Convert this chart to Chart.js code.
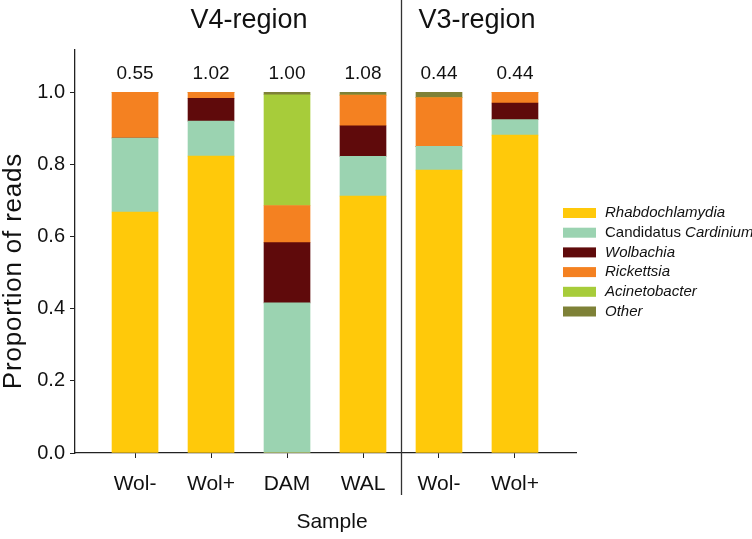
<!DOCTYPE html>
<html>
<head>
<meta charset="utf-8">
<script src="https://cdn.jsdelivr.net/npm/chart.js@4.4.1/dist/chart.umd.min.js"></script>
<style>
  html, body { margin: 0; padding: 0; background: #fff; }
  #wrap { width: 752px; height: 539px; position: relative; }
</style>
</head>
<body>
<div id="wrap"><canvas id="c" width="752" height="539"></canvas></div>
<script>
// ---- data ----
const categories = ['Wol-', 'Wol+', 'DAM', 'WAL', 'Wol-', 'Wol+'];
const totals = ['0.55', '1.02', '1.00', '1.08', '0.44', '0.44'];
const regionNames = ['V4-region', 'V3-region'];
const regionFirst = [0, 4];
const regionLast = [3, 5];
const seriesNames = ['Rhabdochlamydia', 'Candidatus Cardinium', 'Wolbachia', 'Rickettsia', 'Acinetobacter', 'Other'];
const rhabdochlamydia = [0.668, 0.823, 0.000, 0.712, 0.784, 0.881];
const cardinium       = [0.205, 0.097, 0.416, 0.110, 0.066, 0.043];
const wolbachia       = [0.000, 0.063, 0.167, 0.085, 0.000, 0.046];
const rickettsia      = [0.127, 0.017, 0.103, 0.085, 0.135, 0.030];
const acinetobacter   = [0.000, 0.000, 0.307, 0.000, 0.000, 0.000];
const other           = [0.000, 0.000, 0.007, 0.008, 0.015, 0.000];
const yTicks = [0, 0.2, 0.4, 0.6, 0.8, 1.0];

const seriesValues = [rhabdochlamydia, cardinium, wolbachia, rickettsia, acinetobacter, other];
const seriesColors = ['#FFC90A', '#9BD3B1', '#5F0A0B', '#F48121', '#A7CC3A', '#7E8137'];

const FONT = '"Liberation Sans", Arial, Helvetica, sans-serif';

const datasets = seriesValues.map((vals, s) => ({
  label: seriesNames[s],
  data: vals.map((v, i) => ({ x: i, y: v })),
  backgroundColor: seriesColors[s],
  borderWidth: 0,
  barThickness: 46
}));

const decor = {
  id: 'decor',
  afterDraw(chart) {
    const ctx = chart.ctx;
    const xs = chart.scales.x;
    ctx.save();
    ctx.fillStyle = '#111';
    ctx.textAlign = 'center';
    ctx.textBaseline = 'middle';
    // totals above bars
    ctx.font = '19px ' + FONT;
    totals.forEach((t, i) => ctx.fillText(t, xs.getPixelForValue(i), 74));
    // region labels
    ctx.font = '27px ' + FONT;
    regionNames.forEach((r, k) => {
      const cx = (xs.getPixelForValue(regionFirst[k]) + xs.getPixelForValue(regionLast[k])) / 2;
      ctx.fillText(r, cx, 21);
    });
    // separator
    const sx = Math.round(xs.getPixelForValue((regionLast[0] + regionFirst[1]) / 2)) + 0.5;
    ctx.strokeStyle = '#333';
    ctx.lineWidth = 1.3;
    ctx.beginPath();
    ctx.moveTo(sx, 0);
    ctx.lineTo(sx, 495);
    ctx.stroke();
    // axis titles
    ctx.font = '21px ' + FONT;
    ctx.fillText('Sample', 332, 522);
    ctx.save();
    ctx.translate(14, 271);
    ctx.rotate(-Math.PI / 2);
    ctx.font = '26px ' + FONT;
    try { ctx.letterSpacing = '0.8px'; } catch (e) {}
    ctx.fillText('Proportion of reads', 0, 0);
    ctx.restore();
    // legend
    ctx.textAlign = 'left';
    seriesNames.forEach((name, s) => {
      const yc = 213 + s * 19.7;
      ctx.fillStyle = seriesColors[s];
      ctx.fillRect(563, yc - 5, 33, 10);
      ctx.fillStyle = '#111';
      let x = 605;
      name.split(' ').forEach((word, w) => {
        const txt = (w > 0 ? ' ' : '') + word;
        ctx.font = (word === 'Candidatus' ? '' : 'italic ') + '15px ' + FONT;
        ctx.fillText(txt, x, yc);
        x += ctx.measureText(txt).width;
      });
    });
    ctx.restore();
  }
};

new Chart(document.getElementById('c'), {
  type: 'bar',
  data: { datasets },
  options: {
    responsive: false,
    animation: false,
    layout: { padding: { left: 0, right: 176, top: 50, bottom: 0 } },
    plugins: { legend: { display: false }, tooltip: { enabled: false } },
    scales: {
      x: {
        type: 'linear',
        stacked: true,
        offset: false,
        min: -0.79,
        max: 5.803,
        afterFit(scale) { scale.height = 86; },
        afterBuildTicks(scale) { scale.ticks = categories.map((c, i) => ({ value: i })); },
        ticks: {
          color: '#111',
          font: { family: FONT, size: 21 },
          padding: 14,
          maxRotation: 0,
          autoSkip: false,
          callback: (v) => categories[v]
        },
        grid: { drawOnChartArea: false, drawTicks: true, tickLength: 5, color: '#222', offset: false },
        border: { color: '#222', width: 1.3 }
      },
      y: {
        stacked: true,
        min: 0,
        max: 1.117,
        afterFit(scale) { scale.width = 75; },
        afterBuildTicks(scale) { scale.ticks = yTicks.map(v => ({ value: v })); },
        ticks: {
          color: '#111',
          font: { family: FONT, size: 20 },
          padding: 5,
          callback: (v) => v.toFixed(1)
        },
        grid: { drawOnChartArea: false, drawTicks: true, tickLength: 5, color: '#222' },
        border: { color: '#222', width: 1.3 }
      }
    }
  },
  plugins: [decor]
});
</script>
</body>
</html>
